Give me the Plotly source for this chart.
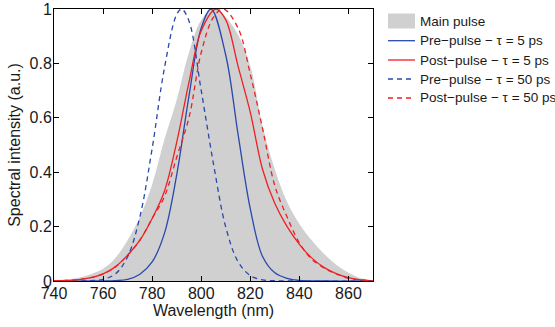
import plotly.graph_objects as go

# ---------------- data ----------------
main_wl = [740, 745, 750, 755, 760, 765, 770, 775, 780, 785, 790, 795, 800, 805,
           810, 815, 820, 825, 830, 835, 840, 845, 850, 855, 860, 865, 870]
main_int = [0.002, 0.005, 0.012, 0.025, 0.045, 0.085, 0.15, 0.235, 0.355, 0.52, 0.665,
            0.84, 0.96, 1.0, 0.97, 0.905, 0.79, 0.57, 0.41, 0.29, 0.21, 0.15, 0.10,
            0.06, 0.03, 0.01, 0.003]

pre5_wl = [740, 760, 765, 770, 775, 780, 785, 790, 795, 800, 804, 810, 815, 820,
           825, 830, 835, 840, 850, 870]
pre5_int = [0.0, 0.0003, 0.0015, 0.006, 0.025, 0.07, 0.175, 0.39, 0.68, 0.93, 1.0,
            0.83, 0.54, 0.265, 0.09, 0.03, 0.01, 0.002, 0.0, 0.0]

post5_wl = [740, 745, 750, 755, 760, 765, 770, 775, 780, 785, 790, 795, 800, 806,
            810, 815, 820, 825, 830, 835, 840, 845, 850, 855, 860, 865, 870]
post5_int = [0.001, 0.002, 0.005, 0.012, 0.026, 0.052, 0.095, 0.15, 0.23, 0.33, 0.51,
             0.73, 0.92, 1.0, 0.96, 0.79, 0.62, 0.41, 0.285, 0.20, 0.135, 0.085, 0.05,
             0.027, 0.012, 0.004, 0.001]

pre50_wl = [740, 755, 760, 765, 770, 775, 780, 785, 790, 792, 795, 800, 805, 810,
            815, 820, 825, 830, 840, 870]
pre50_int = [0.0, 0.001, 0.006, 0.026, 0.089, 0.236, 0.487, 0.783, 0.98, 1.0, 0.956,
             0.70, 0.43, 0.198, 0.071, 0.02, 0.004, 0.001, 0.0, 0.0]

post50_wl = [740, 745, 750, 755, 760, 765, 770, 775, 780, 785, 790, 795, 800, 805,
             809, 815, 820, 825, 830, 835, 840, 845, 850, 855, 860, 865, 870]
post50_int = [0.001, 0.002, 0.005, 0.012, 0.026, 0.052, 0.095, 0.15, 0.23, 0.31, 0.455,
              0.6, 0.84, 0.97, 1.0, 0.93, 0.76, 0.56, 0.35, 0.235, 0.14, 0.08, 0.048,
              0.026, 0.01, 0.004, 0.001]

x_ticks = [740, 760, 780, 800, 820, 840, 860]
y_ticks = [0, 0.2, 0.4, 0.6, 0.8, 1]
y_ticktext = ["0", "0.2", "0.4", "0.6", "0.8", "1"]

legend_names = ["Main pulse",
                "Pre\u2212pulse \u2212 \u03c4 = 5 ps",
                "Post\u2212pulse \u2212 \u03c4 = 5 ps",
                "Pre\u2212pulse \u2212 \u03c4 = 50 ps",
                "Post\u2212pulse \u2212 \u03c4 = 50 ps"]

# ---------------- style ----------------
GRAY = "rgb(208,208,208)"
BLUE = "rgb(40,72,172)"
RED = "rgb(238,32,36)"
FONT = "Liberation Sans, Arial, sans-serif"
TXT = "#1a1a1a"
LW = 1.3
DASH = "5px,4px"

fig = go.Figure()
fig.add_trace(go.Scatter(x=main_wl, y=main_int, mode="lines", fill="tozeroy",
                         fillcolor=GRAY, line=dict(width=0, color=GRAY, shape="spline"),
                         name=legend_names[0]))
fig.add_trace(go.Scatter(x=pre5_wl, y=pre5_int, mode="lines",
                         line=dict(color=BLUE, width=LW, shape="spline"), name=legend_names[1]))
fig.add_trace(go.Scatter(x=post5_wl, y=post5_int, mode="lines",
                         line=dict(color=RED, width=LW, shape="spline"), name=legend_names[2]))
fig.add_trace(go.Scatter(x=pre50_wl, y=pre50_int, mode="lines",
                         line=dict(color=BLUE, width=LW, dash=DASH, shape="spline"),
                         name=legend_names[3]))
fig.add_trace(go.Scatter(x=post50_wl, y=post50_int, mode="lines",
                         line=dict(color=RED, width=LW, dash=DASH, shape="spline"),
                         name=legend_names[4]))

# plot area in pixels
L, R, T, B = 54, 373, 9, 281
W, H = 555, 327


def px(xp):
    return (xp - L) / (R - L)


def py(yp):
    return (B - yp) / (B - T)


axis_common = dict(showline=True, linecolor="black", linewidth=1, mirror="ticks",
                   ticks="inside", ticklen=5, tickcolor="black", tickwidth=1,
                   showgrid=False, zeroline=False, automargin=False,
                   ticklabelstandoff=-2,
                   tickfont=dict(family=FONT, size=16, color=TXT))

fig.update_layout(
    width=W, height=H,
    margin=dict(l=L, r=W - R, t=T, b=H - B, autoexpand=False),
    paper_bgcolor="white", plot_bgcolor="white",
    showlegend=False,
    font=dict(family=FONT, color=TXT),
    xaxis=dict(range=[740, 870], tickvals=x_ticks,
               title=dict(text="Wavelength (nm)", font=dict(size=16, family=FONT, color=TXT),
                          standoff=0),
               **axis_common),
    yaxis=dict(range=[0, 1], tickvals=y_ticks, ticktext=y_ticktext,
               title=dict(text="Spectral intensity (a.u.)",
                          font=dict(size=16, family=FONT, color=TXT), standoff=4),
               **axis_common),
)

# manual legend (outside the axes, at right)
rows = [21.7, 40.7, 60.0, 79.0, 98.0]
sx0, sx1, tx = 388, 415, 418
fig.add_shape(type="rect", xref="paper", yref="paper",
              x0=px(sx0), x1=px(sx1), y0=py(28.5), y1=py(13.5),
              fillcolor=GRAY, line=dict(width=0))
line_styles = [(BLUE, "solid"), (RED, "solid"), (BLUE, DASH), (RED, DASH)]
for (col, dash), r in zip(line_styles, rows[1:]):
    fig.add_shape(type="line", xref="paper", yref="paper",
                  x0=px(sx0), x1=px(sx1), y0=py(r), y1=py(r),
                  line=dict(color=col, width=LW, dash=dash))
for name, r in zip(legend_names, rows):
    fig.add_annotation(text=name, xref="paper", yref="paper", x=px(tx), y=py(r),
                       xanchor="left", yanchor="middle", showarrow=False,
                       font=dict(family=FONT, size=13.5, color=TXT))

fig.write_html("out.html", config={"displayModeBar": False},
               post_script="document.body.style.margin='0';")
